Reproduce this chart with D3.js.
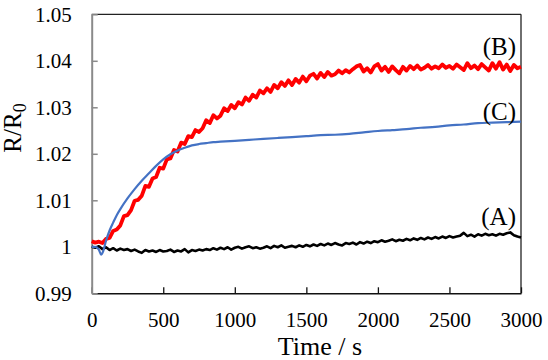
<!DOCTYPE html>
<html>
<head>
<meta charset="utf-8">
<script src="https://cdn.jsdelivr.net/npm/d3@7/dist/d3.min.js"></script>
<style>
  html, body { margin: 0; padding: 0; background: #fff; }
  svg { display: block; }
  text { font-family: "Liberation Serif", "Times New Roman", serif; fill: #000; }
</style>
</head>
<body>
<svg id="chart" width="548" height="360"></svg>
<script>
// ---- data ----
const xTicks = [0, 500, 1000, 1500, 2000, 2500, 3000];
const yTicks = [0.99, 1.0, 1.01, 1.02, 1.03, 1.04, 1.05];
const yTickLabels = ["0.99", "1", "1.01", "1.02", "1.03", "1.04", "1.05"];
const seriesNames = ["(A)", "(B)", "(C)"];

// time grid for the noisy traces (s)
const timeAB = d3.range(0, 3001, 25);

// (A) black
const valuesA = [
  1.0000, 0.9998, 1.0001, 0.9995, 0.9999, 0.9993, 0.9997, 0.9992, 0.9996, 0.9993,
  0.9995, 0.9991, 0.9994, 0.9990, 0.9987, 0.9993, 0.9990, 0.9992, 0.9989, 0.9993,
  0.9990, 0.9991, 0.9994, 0.9989, 0.9992, 0.9990, 0.9995, 0.9988, 0.9993, 0.9991,
  0.9994, 0.9992, 0.9995, 0.9993, 0.9997, 0.9994, 0.9998, 0.9995, 0.9999, 0.9994,
  0.9998, 1.0000, 0.9996, 0.9999, 1.0001, 0.9997, 0.9999, 0.9996, 0.9998, 1.0001,
  0.9997, 1.0002, 0.9999, 1.0003, 0.9998, 1.0000, 1.0002, 0.9999, 1.0003, 1.0000,
  1.0004, 1.0001, 1.0005, 1.0002, 1.0006, 1.0003, 1.0007, 1.0004, 1.0008, 1.0005,
  1.0003, 1.0008, 1.0006, 1.0009, 1.0005, 1.0010, 1.0007, 1.0011, 1.0008, 1.0012,
  1.0010, 1.0014, 1.0011, 1.0013, 1.0016, 1.0012, 1.0015, 1.0013, 1.0017, 1.0014,
  1.0018, 1.0015, 1.0019, 1.0016, 1.0020, 1.0017, 1.0021, 1.0018, 1.0022, 1.0019,
  1.0023, 1.0020, 1.0022, 1.0024, 1.0030, 1.0023, 1.0026, 1.0022, 1.0027, 1.0024,
  1.0028, 1.0025, 1.0027, 1.0024, 1.0028, 1.0026, 1.0029, 1.0031, 1.0025, 1.0022,
  1.0020
];

// (B) red
const valuesB = [
  1.0012, 1.0009, 1.0011, 1.0008, 1.0017, 1.0019, 1.0034, 1.0037, 1.0046, 1.0066,
  1.0068, 1.0079, 1.0099, 1.0101, 1.0110, 1.0131, 1.0129, 1.0147, 1.0150, 1.0170,
  1.0168, 1.0188, 1.0190, 1.0208, 1.0205, 1.0224, 1.0221, 1.0238, 1.0236, 1.0251,
  1.0247, 1.0255, 1.0272, 1.0266, 1.0283, 1.0276, 1.0282, 1.0298, 1.0292, 1.0305,
  1.0298, 1.0311, 1.0306, 1.0321, 1.0314, 1.0327, 1.0321, 1.0336, 1.0330, 1.0341,
  1.0333, 1.0348, 1.0341, 1.0354, 1.0346, 1.0358, 1.0348, 1.0361, 1.0353, 1.0366,
  1.0356, 1.0368, 1.0372, 1.0362, 1.0374, 1.0365, 1.0376, 1.0368, 1.0371, 1.0379,
  1.0373, 1.0380, 1.0375, 1.0382, 1.0388, 1.0391, 1.0377, 1.0384, 1.0375, 1.0388,
  1.0393, 1.0379, 1.0387, 1.0376, 1.0388, 1.0380, 1.0373, 1.0387, 1.0379, 1.0389,
  1.0382, 1.0390, 1.0381, 1.0385, 1.0391, 1.0383, 1.0388, 1.0384, 1.0392, 1.0385,
  1.0389, 1.0383, 1.0392, 1.0386, 1.0380, 1.0395, 1.0384, 1.0390, 1.0382, 1.0393,
  1.0386, 1.0379, 1.0395, 1.0383, 1.0397, 1.0381, 1.0392, 1.0378, 1.0391, 1.0384,
  1.0387
];

// (C) blue (smooth trace)
const timeC = [0, 25, 50, 66, 80, 100, 125, 150, 175, 200, 250, 300, 350, 400, 450, 500,
  550, 600, 650, 700, 750, 800, 850, 900, 1000, 1100, 1200, 1300, 1400, 1500, 1600,
  1700, 1800, 1900, 2000, 2100, 2200, 2300, 2400, 2500, 2600, 2700, 2800, 2900, 3000];
const valuesC = [1.0000, 1.0000, 0.9994, 0.9983, 0.9990, 1.0013, 1.0035, 1.0052, 1.0068, 1.0081,
  1.0104, 1.0124, 1.0142, 1.0158, 1.0174, 1.0188, 1.0199, 1.0207, 1.0213, 1.0218,
  1.0221, 1.0223, 1.0225, 1.0226, 1.0228, 1.0230, 1.0232, 1.0234, 1.0236, 1.0238,
  1.0240, 1.0241, 1.0243, 1.0246, 1.0249, 1.0251, 1.0253, 1.0256, 1.0258, 1.0261,
  1.0263, 1.0266, 1.0267, 1.0268, 1.0269];

// ---- layout ----
const svg = d3.select("#chart");
const mLeft = 91.7, mRight = 521, mTop = 14.3, mBottom = 293.3;

const x = d3.scaleLinear().domain([0, 3000]).range([mLeft, mRight]);
const y = d3.scaleLinear().domain([0.99, 1.05]).range([mBottom, mTop]);

// frame (top and right)
svg.append("line").attr("x1", mLeft).attr("x2", mRight).attr("y1", mTop).attr("y2", mTop)
  .attr("stroke", "#222").attr("stroke-width", 1.3);
svg.append("line").attr("x1", mRight).attr("x2", mRight).attr("y1", mTop).attr("y2", mBottom)
  .attr("stroke", "#222").attr("stroke-width", 1.3);

// x axis
const xAxis = d3.axisBottom(x).tickValues(xTicks).tickSizeInner(-6).tickSizeOuter(0)
  .tickPadding(18.5).tickFormat(d3.format("d"));
const gx = svg.append("g").attr("transform", `translate(0,${mBottom})`).call(xAxis);
gx.select(".domain").attr("stroke", "#111").attr("stroke-width", 1.6);
gx.selectAll(".tick line").attr("stroke", "#111").attr("stroke-width", 1.3);
gx.selectAll(".tick text").attr("font-size", 21).attr("font-family", "Liberation Serif").attr("fill", "#000");

// y axis
const yAxis = d3.axisLeft(y).tickValues(yTicks).tickSizeInner(-6).tickSizeOuter(0)
  .tickPadding(20).tickFormat((d, i) => yTickLabels[i]);
const gy = svg.append("g").attr("transform", `translate(${mLeft},0)`).call(yAxis);
gy.select(".domain").attr("stroke", "#8a8a8a").attr("stroke-width", 2);
gy.selectAll(".tick line").attr("stroke", "#8a8a8a").attr("stroke-width", 1.5);
gy.selectAll(".tick text").attr("font-size", 21).attr("font-family", "Liberation Serif").attr("fill", "#000");

// lines
const lineGen = d3.line().x(d => x(d[0])).y(d => y(d[1]));
const dataA = timeAB.map((t, i) => [t, valuesA[i]]).filter(d => d[1] !== undefined);
const dataB = timeAB.map((t, i) => [t, valuesB[i]]).filter(d => d[1] !== undefined);
const dataC = timeC.map((t, i) => [t, valuesC[i]]);

svg.append("path").datum(dataA).attr("d", lineGen).attr("fill", "none")
  .attr("stroke", "#000").attr("stroke-width", 2.6).attr("stroke-linejoin", "round");
svg.append("path").datum(dataB).attr("d", lineGen).attr("fill", "none")
  .attr("stroke", "#ff0000").attr("stroke-width", 3.8).attr("stroke-linejoin", "round");
svg.append("path").datum(dataC)
  .attr("d", d3.line().x(d => x(d[0])).y(d => y(d[1])).curve(d3.curveMonotoneX))
  .attr("fill", "none").attr("stroke", "#4472c4").attr("stroke-width", 2.2).attr("stroke-linejoin", "round");

// series labels (baselines in px)
const labelBase = [225, 55, 120];
seriesNames.forEach((name, i) => {
  svg.append("text").attr("x", mRight - 5).attr("y", labelBase[i])
    .attr("text-anchor", "end").attr("font-size", 25).text(name);
});

// axis titles
svg.append("text").attr("x", 320).attr("y", 354.5).attr("text-anchor", "middle")
  .attr("font-size", 26).text("Time / s");

const yt = svg.append("text").attr("transform", "translate(21,128) rotate(-90)")
  .attr("text-anchor", "middle").attr("font-size", 25);
yt.append("tspan").text("R/R");
yt.append("tspan").attr("font-size", 18).attr("dy", 5).text("0");
</script>
</body>
</html>
